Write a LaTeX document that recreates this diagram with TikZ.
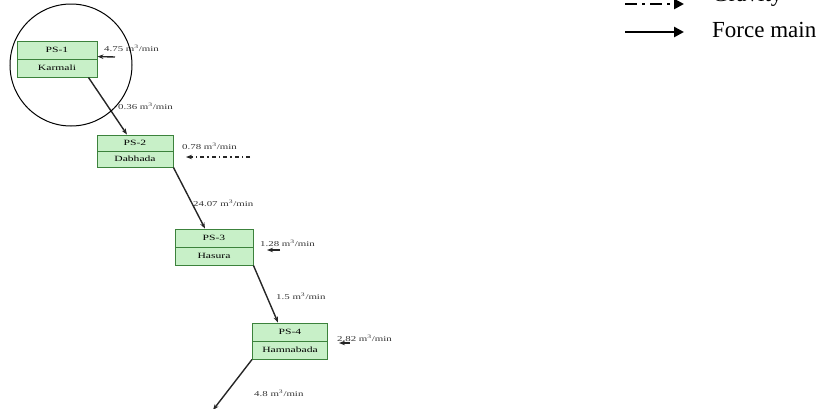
\documentclass[tikz,border=0pt]{standalone}
\usepackage{fontspec}
\usepackage{graphicx}
\setmainfont{Liberation Serif}
\usetikzlibrary{arrows.meta}
\definecolor{boxfill}{RGB}{200,240,200}
\definecolor{boxline}{RGB}{60,130,60}
\newcommand{\widetxt}[1]{\scalebox{1.45}[1]{#1}}
\begin{document}
\begin{tikzpicture}[x=1pt,y=-1pt,
  half/.style={draw=boxline,fill=boxfill,line width=0.9pt,minimum width=80pt,minimum height=18pt,inner sep=0pt,font=\fontsize{8}{9}\selectfont},
  flow/.style={-{Stealth[length=6pt,width=4.5pt]},line width=1.4pt,black!85},
  grav/.style={-{Stealth[length=6pt,width=4.5pt]},line width=1.4pt,black!85,dash pattern=on 4pt off 3pt on 1.5pt off 3pt},
  lab/.style={anchor=west,inner sep=0pt,font=\fontsize{7.5}{8}\selectfont,black!80}]
\useasboundingbox (0,0) rectangle (824,408);
% boxes
\node[half] (t1) at (57,50) {\widetxt{PS-1}};
\node[half] (b1) at (57,68) {\widetxt{Karmali}};
\node[half,minimum width=76pt,minimum height=16pt] (t2) at (135,143) {\widetxt{PS-2}};
\node[half,minimum width=76pt,minimum height=16pt] (b2) at (135,159) {\widetxt{Dabhada}};
\node[half,minimum width=78pt] (t3) at (214,238) {\widetxt{PS-3}};
\node[half,minimum width=78pt] (b3) at (214,256) {\widetxt{Hasura}};
\node[half,minimum width=75pt] (t4) at (290,332) {\widetxt{PS-4}};
\node[half,minimum width=75pt] (b4) at (290,350) {\widetxt{Hamnabada}};
% main connectors
\draw[flow] ([xshift=-9pt]b1.south east) -- ([xshift=-8pt]t2.north);
\draw[flow] (b2.south east) -- ([xshift=-9pt]t3.north);
\draw[flow] (b3.south east) -- ([xshift=-12pt]t4.north);
\coordinate (out) at (213,410);
\draw[flow] (b4.south west) -- (out);
% side inflows
\node[lab] (l1) at (104,48) {\widetxt{4.75 m\textsuperscript{3}/min}};
\coordinate (s1) at (115,57);
\draw[flow] (s1) -- ([yshift=2pt]b1.north east);
\node[lab] (f12) at (118,106) {\widetxt{0.36 m\textsuperscript{3}/min}};
\node[lab] (l2) at (182,146) {\widetxt{0.78 m\textsuperscript{3}/min}};
\coordinate (s2) at (250,157);
\coordinate (e2) at (186,157);
\draw[grav] (s2) -- (e2);
\node[lab] (f23) at (193,203) {\widetxt{24.07 m\textsuperscript{3}/min}};
\node[lab] (l3) at (260,243) {\widetxt{1.28 m\textsuperscript{3}/min}};
\coordinate (s3) at (280,250);
\coordinate (e3) at (267,250);
\draw[flow] (s3) -- (e3);
\node[lab] (f34) at (276,296) {\widetxt{1.5 m\textsuperscript{3}/min}};
\node[lab] (l4) at (337,338) {\widetxt{2.82 m\textsuperscript{3}/min}};
\coordinate (s4) at (350,343);
\coordinate (e4) at (339,343);
\draw[flow] (s4) -- (e4);
\node[lab] (f4o) at (254,393) {\widetxt{4.8 m\textsuperscript{3}/min}};
% circle highlight
\node[draw,circle,line width=1pt,minimum size=122pt,inner sep=0pt] (hl) at (71,65) {};
% legend
\coordinate (g1) at (625,4);
\coordinate (g2) at (684,4);
\draw[-{Triangle[length=10pt,width=10pt]},line width=2.5pt,dash pattern=on 12pt off 5pt on 3pt off 5pt] (g1) -- (g2);
\node[anchor=west,inner sep=0pt,font=\fontsize{23}{26}\selectfont] (gl) at (712,-4) {Gravity};
\coordinate (m1) at (625,32);
\coordinate (m2) at (684,32);
\draw[-{Triangle[length=10pt,width=10pt]},line width=2.5pt] (m1) -- (m2);
\node[anchor=west,inner sep=0pt,font=\fontsize{23}{26}\selectfont] (ml) at (712,30) {Force main};
\end{tikzpicture}
\end{document}
